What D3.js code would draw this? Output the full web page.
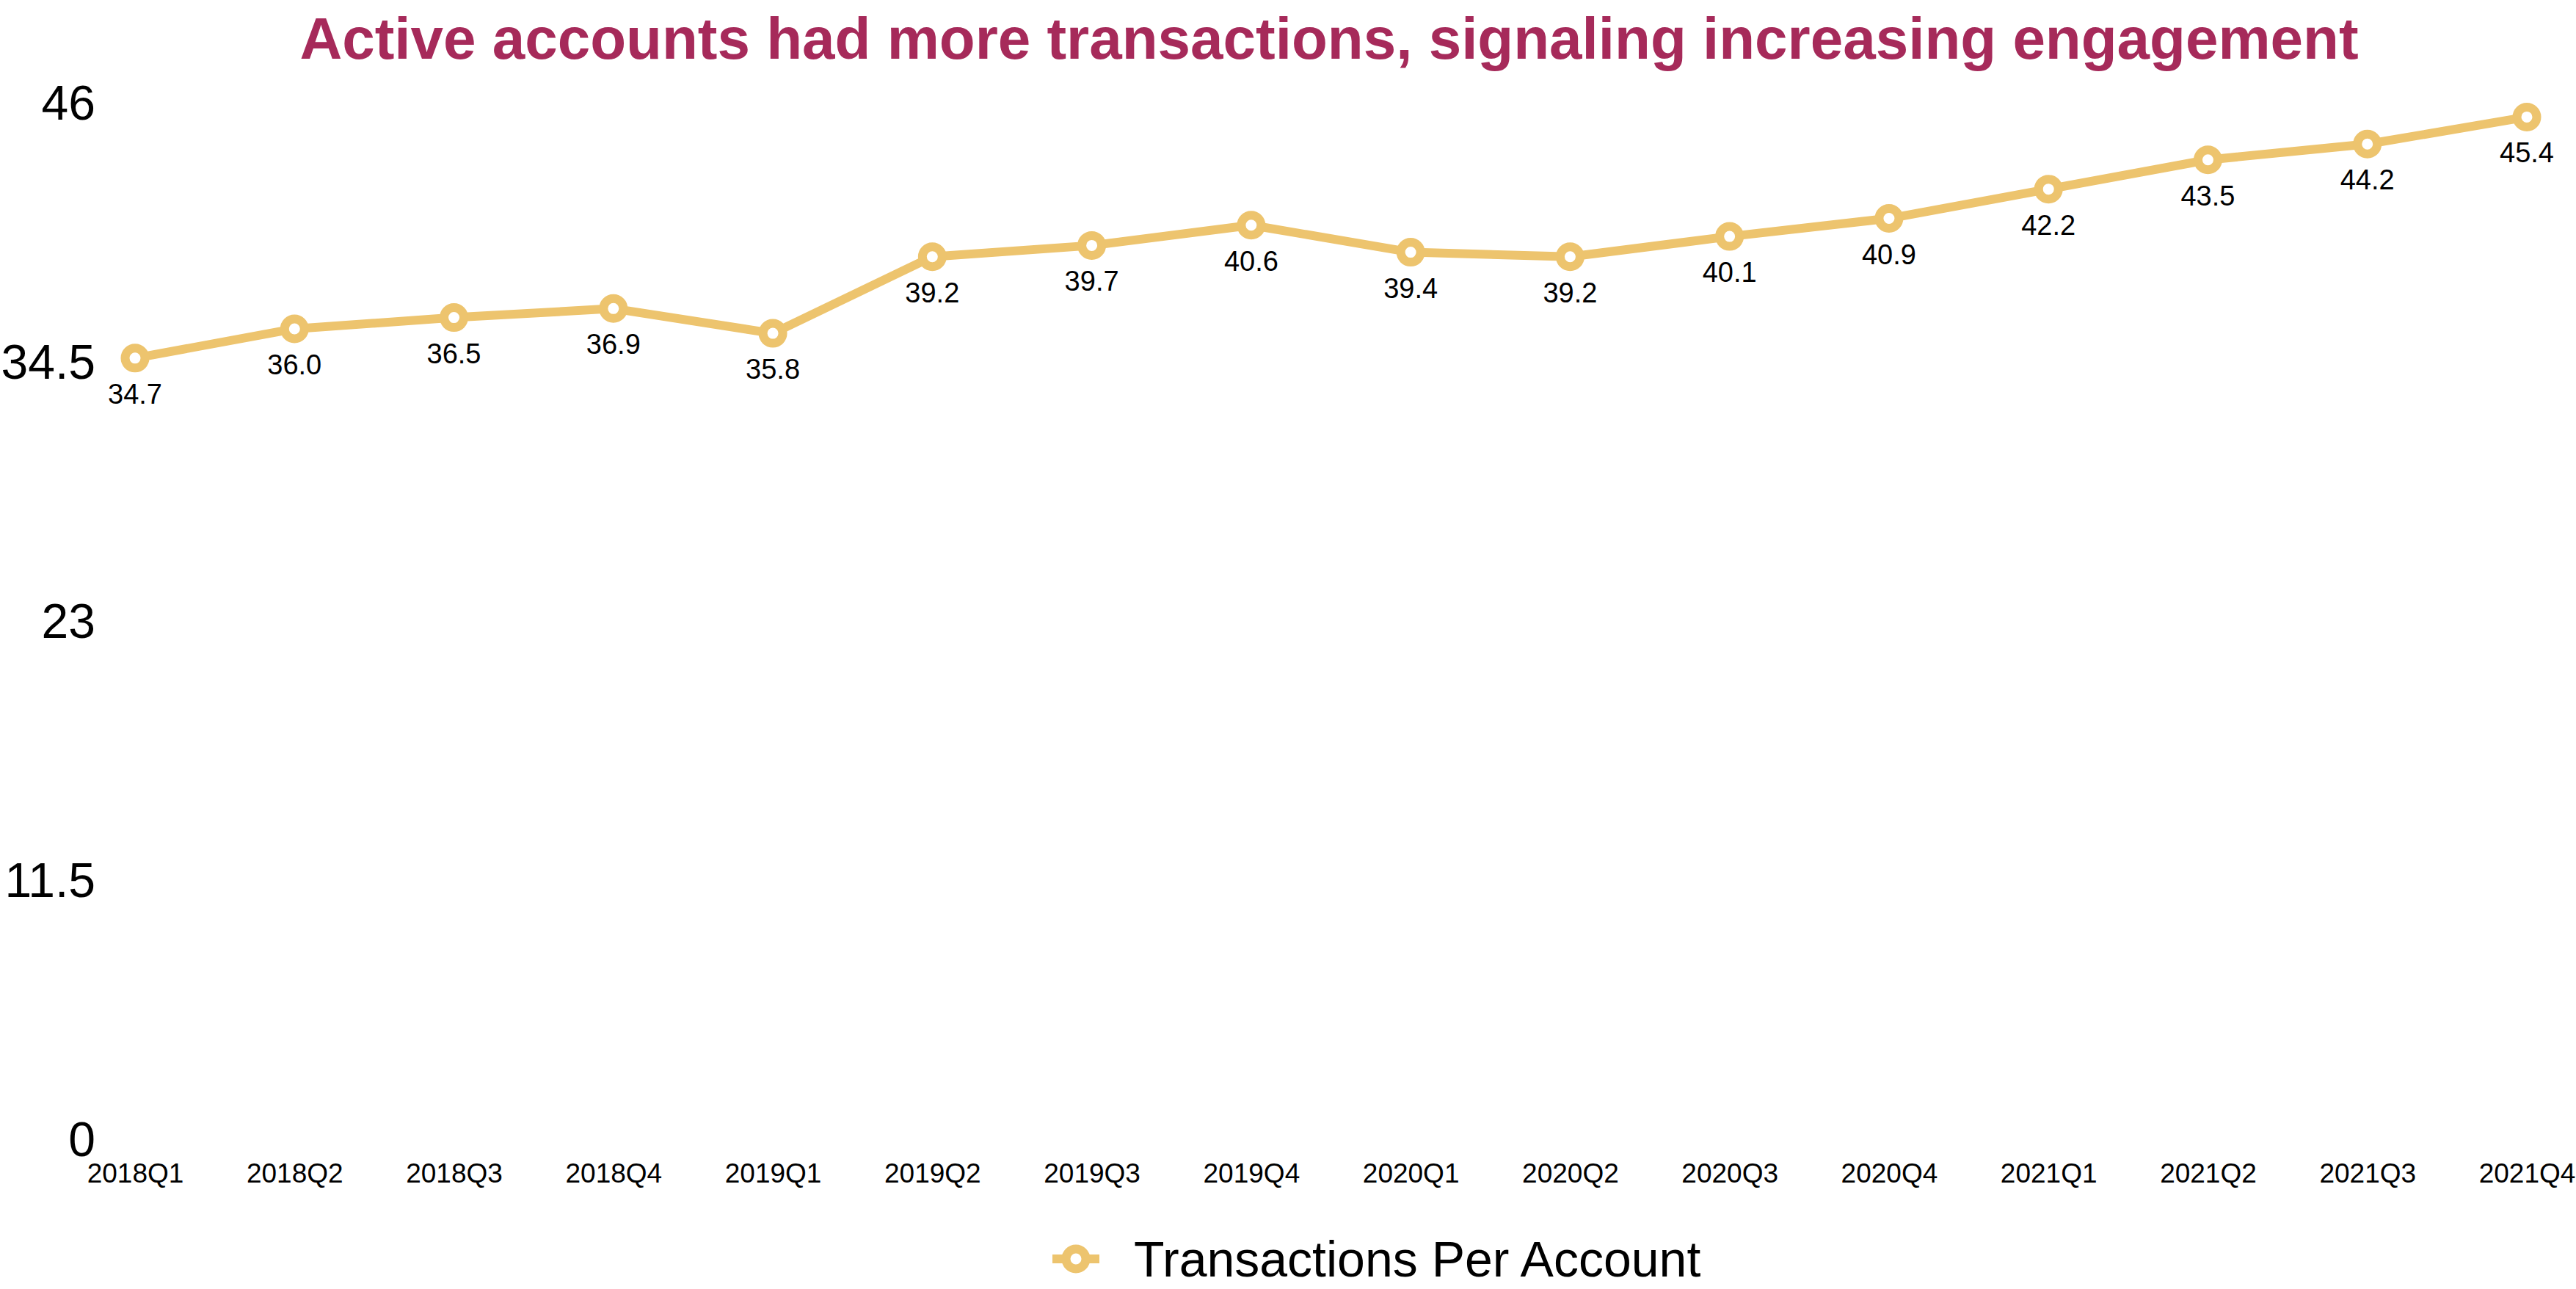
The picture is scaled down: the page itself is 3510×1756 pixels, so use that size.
<!DOCTYPE html>
<html>
<head>
<meta charset="utf-8">
<script src="https://cdn.jsdelivr.net/npm/d3@7"></script>
<style>
  body { margin: 0; background: #fff; }
  text { font-family: "Liberation Sans", Arial, Helvetica, sans-serif; }
</style>
</head>
<body>
<svg id="chart" width="3510" height="1756"></svg>
<script>
// data
const quarters = ["2018Q1","2018Q2","2018Q3","2018Q4","2019Q1","2019Q2","2019Q3","2019Q4",
                  "2020Q1","2020Q2","2020Q3","2020Q4","2021Q1","2021Q2","2021Q3","2021Q4"];
const txPerAccount = [34.7, 36.0, 36.5, 36.9, 35.8, 39.2, 39.7, 40.6,
                      39.4, 39.2, 40.1, 40.9, 42.2, 43.5, 44.2, 45.4];
const yTicks = [0, 11.5, 23, 34.5, 46];
const seriesName = "Transactions Per Account";
const titleText = "Active accounts had more transactions, signaling increasing engagement";

const width = 3510, height = 1756;
const lineColor = "#EDC46E";

const svg = d3.select("#chart");

// scales
const x = d3.scalePoint()
  .domain(quarters)
  .range([184, 3443]);

const y = d3.scaleLinear()
  .domain([0, 46])
  .range([1553, 141]);

// title
svg.append("text")
  .attr("x", 1811)
  .attr("y", 80)
  .attr("text-anchor", "middle")
  .attr("font-size", 80)
  .attr("font-weight", "bold")
  .attr("fill", "#A62A5A")
  .text(titleText);

// y axis (labels only)
const yAxis = svg.append("g")
  .attr("class", "y-axis")
  .attr("transform", "translate(130,0)")
  .call(d3.axisLeft(y).tickValues(yTicks).tickSize(0).tickPadding(0).tickFormat(d => d));
yAxis.select(".domain").remove();
yAxis.selectAll("text")
  .attr("font-size", 66)
  .attr("font-family", null)
  .attr("fill", "#000");

// x axis (labels only)
const xAxis = svg.append("g")
  .attr("class", "x-axis")
  .attr("transform", "translate(0,1585)")
  .call(d3.axisBottom(x).tickSize(0).tickPadding(0));
xAxis.select(".domain").remove();
xAxis.selectAll("text")
  .attr("font-size", 37)
  .attr("font-family", null)
  .attr("fill", "#000");

// line
const line = d3.line()
  .x((d, i) => x(quarters[i]))
  .y(d => y(d));

svg.append("path")
  .datum(txPerAccount)
  .attr("fill", "none")
  .attr("stroke", lineColor)
  .attr("stroke-width", 12)
  .attr("stroke-linejoin", "round")
  .attr("d", line);

// markers
svg.selectAll(".dot")
  .data(txPerAccount)
  .enter()
  .append("circle")
  .attr("class", "dot")
  .attr("cx", (d, i) => x(quarters[i]))
  .attr("cy", d => y(d))
  .attr("r", 13.5)
  .attr("fill", "#fff")
  .attr("stroke", lineColor)
  .attr("stroke-width", 12);

// value labels
svg.selectAll(".val")
  .data(txPerAccount)
  .enter()
  .append("text")
  .attr("class", "val")
  .attr("x", (d, i) => x(quarters[i]))
  .attr("y", d => y(d) + 49)
  .attr("text-anchor", "middle")
  .attr("dominant-baseline", "central")
  .attr("font-size", 38)
  .attr("fill", "#000")
  .text(d => d.toFixed(1));

// legend
const legend = svg.append("g").attr("transform", "translate(1466,1715)");
legend.append("line")
  .attr("x1", -32).attr("x2", 32)
  .attr("stroke", lineColor)
  .attr("stroke-width", 12);
legend.append("circle")
  .attr("r", 13.5)
  .attr("fill", "#fff")
  .attr("stroke", lineColor)
  .attr("stroke-width", 12);
legend.append("text")
  .attr("x", 79)
  .attr("dominant-baseline", "central")
  .attr("font-size", 68)
  .attr("fill", "#000")
  .text(seriesName);
</script>
</body>
</html>
